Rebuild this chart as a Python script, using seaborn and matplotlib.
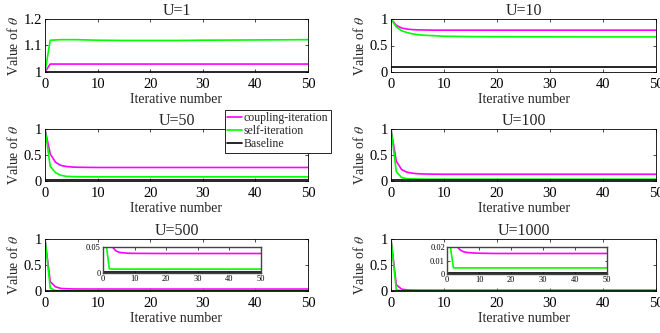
import numpy as np
import pandas as pd
import matplotlib
matplotlib.use("Agg")
import matplotlib.pyplot as plt
import seaborn as sns
from matplotlib.lines import Line2D

# ---------------- data ----------------
iters = [0, 1, 2, 3, 4, 5, 6, 8, 10, 15, 20, 25, 30, 40, 50]
U_values = [1, 10, 50, 100, 500, 1000]
titles = ["U=1", "U=10", "U=50", "U=100", "U=500", "U=1000"]
series_names = ["coupling-iteration", "self-iteration", "Baseline"]

coupling_U1 = [1.0, 1.03, 1.03, 1.03, 1.03, 1.03, 1.03, 1.03, 1.03, 1.03, 1.03, 1.03, 1.03, 1.03, 1.03]
self_U1 = [1.0, 1.12, 1.121, 1.122, 1.122, 1.122, 1.122, 1.121, 1.120, 1.119, 1.119, 1.119, 1.120, 1.121, 1.122]

coupling_U10 = [1.0, 0.88, 0.83, 0.81, 0.80, 0.795, 0.793, 0.79, 0.79, 0.79, 0.79, 0.79, 0.79, 0.79, 0.79]
self_U10 = [1.0, 0.85, 0.78, 0.745, 0.72, 0.705, 0.695, 0.685, 0.675, 0.668, 0.665, 0.664, 0.663, 0.662, 0.662]

coupling_U50 = [1.0, 0.52, 0.36, 0.30, 0.28, 0.27, 0.265, 0.262, 0.26, 0.26, 0.26, 0.26, 0.26, 0.26, 0.26]
self_U50 = [1.0, 0.28, 0.16, 0.11, 0.09, 0.085, 0.082, 0.08, 0.08, 0.08, 0.08, 0.08, 0.08, 0.08, 0.08]

coupling_U100 = [1.0, 0.38, 0.22, 0.17, 0.15, 0.14, 0.135, 0.132, 0.13, 0.13, 0.13, 0.13, 0.13, 0.13, 0.13]
self_U100 = [1.0, 0.18, 0.065, 0.045, 0.04, 0.038, 0.037, 0.036, 0.036, 0.036, 0.036, 0.036, 0.036, 0.036, 0.036]

coupling_U500 = [1.0, 0.18, 0.08, 0.05, 0.043, 0.04, 0.039, 0.038, 0.0378, 0.0376, 0.0375, 0.0375, 0.0375, 0.0375, 0.0375]
self_U500 = [1.0, 0.056, 0.008, 0.0076, 0.0075, 0.0075, 0.0075, 0.0075, 0.0075, 0.0075, 0.0075, 0.0075, 0.0075, 0.0075, 0.0075]

coupling_U1000 = [1.0, 0.12, 0.036, 0.021, 0.018, 0.0166, 0.016, 0.0156, 0.0154, 0.0152, 0.0152, 0.0152, 0.0152, 0.0152, 0.0152]
self_U1000 = [1.0, 0.021, 0.0046, 0.0045, 0.0045, 0.0045, 0.0045, 0.0045, 0.0045, 0.0045, 0.0045, 0.0045, 0.0045, 0.0045, 0.0045]

baseline_values = [1.0, 0.1, 0.02, 0.01, 0.002, 0.001]

coupling_all = [coupling_U1, coupling_U10, coupling_U50, coupling_U100, coupling_U500, coupling_U1000]
self_all = [self_U1, self_U10, self_U50, self_U100, self_U500, self_U1000]

ylims = [(1, 1.2), (0, 1), (0, 1), (0, 1), (0, 1), (0, 1)]
yticks = [[1, 1.1, 1.2], [0, 0.5, 1], [0, 0.5, 1], [0, 0.5, 1], [0, 0.5, 1], [0, 0.5, 1]]
inset_ylims = {4: (0, 0.05), 5: (0, 0.02)}
inset_yticks = {4: [0, 0.05], 5: [0, 0.01, 0.02]}

colors = {"coupling-iteration": "#FF00FF", "self-iteration": "#00FF00", "Baseline": "#000000"}

# ---------------- style ----------------
sns.set_style("ticks")
plt.rcParams["font.family"] = ["Liberation Serif", "DejaVu Serif"]
plt.rcParams["mathtext.fontset"] = "stix"
plt.rcParams["axes.linewidth"] = 0.6

fig = plt.figure(figsize=(6.6, 3.33), dpi=100)

col_left = [45 / 660, 391 / 660]
col_w = [263 / 660, 265 / 660]
row_bottom = [1 - 72 / 333, 1 - 181 / 333, 1 - 291 / 333]
row_h = [53 / 333, 52 / 333, 52 / 333]


def make_df(i):
    rows = []
    for name, vals in zip(series_names,
                          [coupling_all[i], self_all[i], [baseline_values[i]] * len(iters)]):
        for x, v in zip(iters, vals):
            rows.append({"iter": x, "theta": v, "method": name})
    return pd.DataFrame(rows)


def style_ax(ax, fs=10.5, length=2.5, pad=2, xpad=None):
    ax.tick_params(direction="in", top=True, right=True, length=length, width=0.5,
                   labelsize=fs, pad=pad, colors="black")
    if xpad is not None:
        ax.tick_params(axis="x", pad=xpad)
    for s in ax.spines.values():
        s.set_color("black")
        s.set_linewidth(0.6)


for i in range(6):
    r, c = divmod(i, 2)
    ax = fig.add_axes([col_left[c], row_bottom[r], col_w[c], row_h[r]])
    df = make_df(i)
    sns.lineplot(data=df, x="iter", y="theta", hue="method", palette=colors,
                 hue_order=series_names, ax=ax, legend=False, linewidth=1.2)
    ax.set_xlim(0, 50)
    ax.set_ylim(*ylims[i])
    ax.set_xticks([0, 10, 20, 30, 40, 50])
    ax.set_yticks(yticks[i])
    ax.set_yticklabels([f"{t:g}" for t in yticks[i]])
    ax.set_title(titles[i], fontsize=11.5, pad=3)
    ax.set_xlabel("Iterative number", fontsize=10, labelpad=2)
    ax.set_ylabel(r"Value of $\theta$", fontsize=10, labelpad=2)
    style_ax(ax, xpad=4)

    if i in inset_ylims:
        if i == 4:
            rect = [103 / 660, 1 - 273 / 333, 158 / 660, 26 / 333]
        else:
            rect = [447 / 660, 1 - 274 / 333, 160 / 660, 27 / 333]
        iax = fig.add_axes(rect)
        sns.lineplot(data=df, x="iter", y="theta", hue="method", palette=colors,
                     hue_order=series_names, ax=iax, legend=False, linewidth=1.2)
        iax.set_xlim(0, 50)
        iax.set_ylim(*inset_ylims[i])
        iax.set_xticks([0, 10, 20, 30, 40, 50])
        iax.set_yticks(inset_yticks[i])
        iax.set_yticklabels([f"{t:g}" for t in inset_yticks[i]])
        iax.set_xlabel("")
        iax.set_ylabel("")
        style_ax(iax, fs=6, length=1.8, pad=1.5)
        for s in iax.spines.values():
            s.set_color("#444444")
            s.set_linewidth(1.0)

handles = [Line2D([0], [0], color=colors[n], lw=1.2) for n in series_names]
leg = fig.legend(handles, series_names, loc="upper left",
                 bbox_to_anchor=(225 / 660, 1 - 110 / 333), fontsize=8.5,
                 frameon=True, fancybox=False, handlelength=1.2, handletextpad=0.2,
                 borderpad=0.2, labelspacing=0.08, borderaxespad=0)
leg.get_frame().set_edgecolor("black")
leg.get_frame().set_linewidth(0.6)
leg.get_frame().set_alpha(1)

fig.savefig("out.png", dpi=100)
